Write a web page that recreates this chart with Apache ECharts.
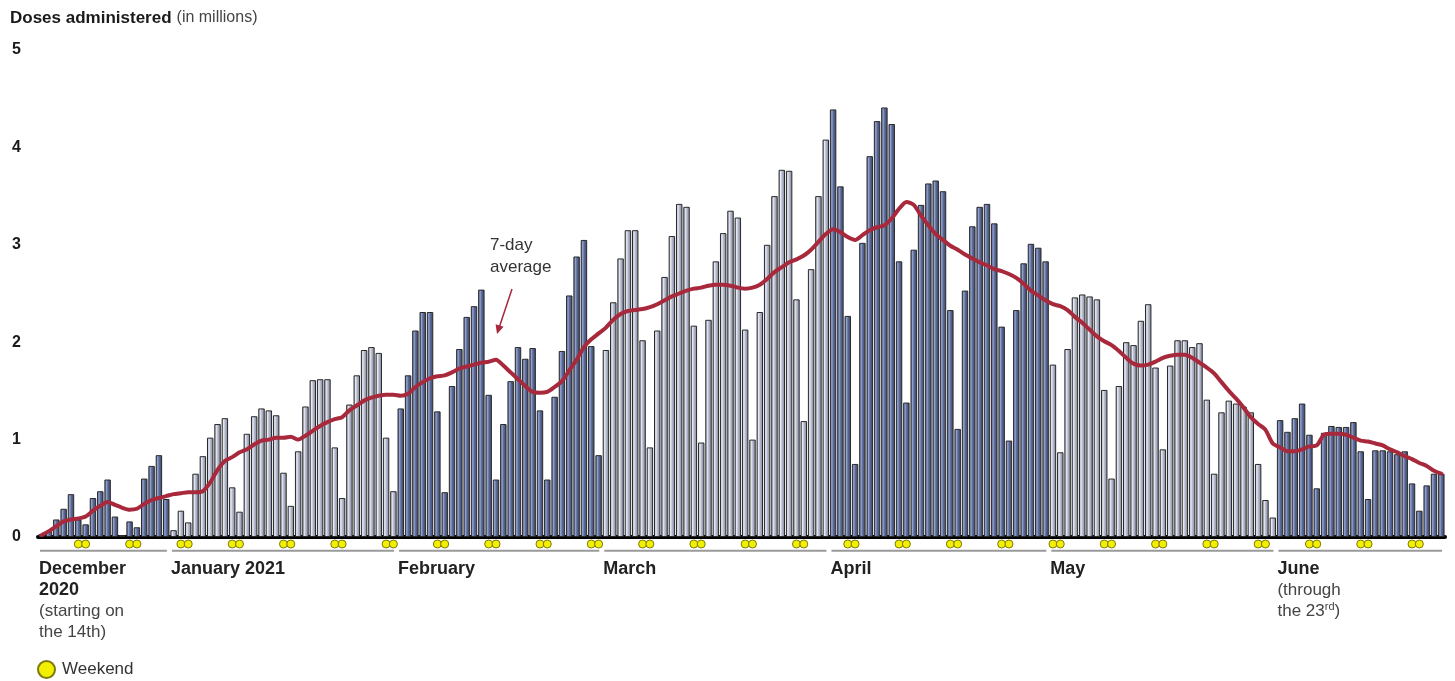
<!DOCTYPE html>
<html>
<head>
<meta charset="utf-8">
<script src="https://cdn.jsdelivr.net/npm/echarts/dist/echarts.min.js"></script>
<style>
  html, body { margin: 0; padding: 0; background: #fff; }
  #container { width: 1455px; height: 681px; }
</style>
</head>
<body>
<div id="container"></div>
<script>
var dom = document.getElementById('container');
var myChart = echarts.init(dom);

// months shown (Dec 14, 2020 through Jun 23, 2021)
var monthDays = [18, 31, 28, 31, 30, 31, 23];
var monthLabels = [
    '{b|December}\n{b|2020}\n{n|(starting on}\n{n|the 14th)}',
    '{b|January 2021}',
    '{b|February}',
    '{b|March}',
    '{b|April}',
    '{b|May}',
    '{b|June}\n{n|(through}\n{n|the 23}{s|rd}{n|)}'
];
var yTicks = [0, 1, 2, 3, 4, 5];

// daily doses, millions
var decDoses = [0.03, 0.06, 0.18, 0.29, 0.44, 0.18, 0.13, 0.40, 0.47, 0.59, 0.21, 0.02, 0.16, 0.10, 0.60, 0.73, 0.84, 0.39];
var janDoses = [0.07, 0.27, 0.15, 0.65, 0.83, 1.02, 1.16, 1.22, 0.51, 0.26, 1.06, 1.24, 1.32, 1.30, 1.25, 0.66, 0.32,
    0.88, 1.34, 1.61, 1.62, 1.62, 0.92, 0.40, 1.36, 1.66, 1.92, 1.95, 1.89, 1.02, 0.47];
var febDoses = [1.32, 1.66, 2.12, 2.31, 2.31, 1.29, 0.46, 1.55, 1.93, 2.26, 2.37, 2.54, 1.46, 0.59,
    1.16, 1.60, 1.95, 1.83, 1.94, 1.30, 0.59, 1.44, 1.91, 2.48, 2.88, 3.05, 1.96, 0.84];
var marDoses = [1.92, 2.41, 2.86, 3.15, 3.15, 2.02, 0.92, 2.12, 2.67, 3.09, 3.42, 3.39, 2.17, 0.97, 2.23, 2.83,
    3.12, 3.35, 3.28, 2.13, 1.00, 2.31, 3.00, 3.50, 3.77, 3.76, 2.44, 1.19, 2.75, 3.50, 4.08];
var aprDoses = [4.39, 3.60, 2.27, 0.75, 3.02, 3.91, 4.27, 4.41, 4.24, 2.83, 1.38, 2.95, 3.41, 3.63, 3.66,
    3.55, 2.33, 1.11, 2.53, 3.19, 3.39, 3.42, 3.22, 2.16, 0.99, 2.33, 2.81, 3.01, 2.97, 2.83];
var mayDoses = [1.77, 0.87, 1.93, 2.46, 2.49, 2.47, 2.44, 1.51, 0.60, 1.55, 2.00, 1.97, 2.22, 2.39, 1.74, 0.90,
    1.76, 2.02, 2.02, 1.95, 1.99, 1.41, 0.65, 1.28, 1.40, 1.37, 1.34, 1.28, 0.75, 0.38, 0.20];
var junDoses = [1.20, 1.08, 1.22, 1.37, 1.05, 0.50, 1.07, 1.14, 1.13, 1.13, 1.18, 0.88, 0.39, 0.89, 0.89,
    0.88, 0.85, 0.88, 0.55, 0.27, 0.53, 0.65, 0.65];

// 7-day average line, millions
var decAvg = [0.02, 0.06, 0.11, 0.16, 0.18, 0.19, 0.21, 0.27, 0.32, 0.36, 0.33, 0.30, 0.28, 0.29, 0.34, 0.38, 0.40, 0.42];
var janAvg = [0.44, 0.45, 0.46, 0.46, 0.47, 0.56, 0.69, 0.78, 0.82, 0.87, 0.90, 0.95, 0.99, 1.00, 1.02, 1.02, 1.03,
    1.00, 1.04, 1.09, 1.14, 1.18, 1.21, 1.23, 1.30, 1.35, 1.40, 1.43, 1.45, 1.46, 1.46];
var febAvg = [1.45, 1.47, 1.54, 1.59, 1.63, 1.65, 1.66, 1.69, 1.73, 1.75, 1.77, 1.79, 1.80, 1.82,
    1.76, 1.69, 1.62, 1.55, 1.49, 1.48, 1.49, 1.54, 1.60, 1.71, 1.82, 1.95, 2.03, 2.09];
var marAvg = [2.15, 2.23, 2.29, 2.32, 2.33, 2.34, 2.36, 2.39, 2.43, 2.47, 2.50, 2.53, 2.55, 2.56, 2.58, 2.59,
    2.59, 2.58, 2.56, 2.55, 2.56, 2.59, 2.65, 2.72, 2.77, 2.82, 2.85, 2.89, 2.95, 3.03, 3.11];
var aprAvg = [3.16, 3.13, 3.08, 3.05, 3.10, 3.15, 3.18, 3.20, 3.27, 3.37, 3.44, 3.41, 3.30, 3.20, 3.11,
    3.05, 2.99, 2.95, 2.90, 2.86, 2.82, 2.79, 2.75, 2.73, 2.70, 2.66, 2.60, 2.53, 2.48, 2.43];
var mayAvg = [2.39, 2.37, 2.33, 2.26, 2.20, 2.13, 2.06, 2.01, 1.97, 1.91, 1.84, 1.78, 1.76, 1.77, 1.80, 1.84,
    1.86, 1.87, 1.87, 1.84, 1.79, 1.74, 1.68, 1.59, 1.50, 1.42, 1.33, 1.23, 1.16, 1.10, 0.96];
var junAvg = [0.92, 0.88, 0.88, 0.90, 0.93, 0.94, 1.05, 1.06, 1.06, 1.05, 1.02, 0.99, 0.98, 0.96, 0.94,
    0.90, 0.87, 0.83, 0.80, 0.76, 0.73, 0.68, 0.65];

var doses = [].concat(decDoses, janDoses, febDoses, marDoses, aprDoses, mayDoses, junDoses);
var avg7 = [].concat(decAvg, janAvg, febAvg, marAvg, aprAvg, mayAvg, junAvg);

// day categories, month of each day, weekends
var days = [];
var monthOf = [];
var weekend = [];
var monthRanges = [];
var d0 = Date.UTC(2020, 11, 14);
var k = 0;
for (var m = 0; m < monthDays.length; m++) {
    monthRanges.push([k, k + monthDays[m] - 1, m]);
    for (var j = 0; j < monthDays[m]; j++) {
        var dt = new Date(d0 + k * 86400000);
        days.push(dt.toISOString().slice(0, 10));
        monthOf.push(m);
        var wd = dt.getUTCDay();
        if (wd === 0 || wd === 6) weekend.push([k, 0.6]);
        k++;
    }
}

var darkBar = new echarts.graphic.LinearGradient(0, 0, 1, 0, [
    {offset: 0, color: '#42507a'}, {offset: 0.3, color: '#95a3d0'},
    {offset: 0.55, color: '#5a6996'}, {offset: 1, color: '#3b4666'}
]);
var lightBar = new echarts.graphic.LinearGradient(0, 0, 1, 0, [
    {offset: 0, color: '#868ca3'}, {offset: 0.3, color: '#e8eaf3'},
    {offset: 0.55, color: '#b3b8cb'}, {offset: 1, color: '#7c8298'}
]);

var font = '"Liberation Sans", Arial, sans-serif';
var labelRich = {
    b: {fontSize: 18, fontWeight: 'bold', fill: '#222', color: '#222', lineHeight: 21, fontFamily: font},
    n: {fontSize: 17, fill: '#444', color: '#444', lineHeight: 21, fontFamily: font},
    s: {fontSize: 11, fill: '#444', color: '#444', padding: [0, 0, 9, 0], fontFamily: font}
};

option = {
    animation: false,
    textStyle: {fontFamily: font},
    title: {
        text: '{b|Doses administered} {n|(in millions)}',
        left: 5,
        top: 4,
        textStyle: {
            fontWeight: 'normal',
            rich: {
                b: {fontSize: 17, fontWeight: 'bold', color: '#1a1a1a', fontFamily: font},
                n: {fontSize: 16, fontWeight: 'normal', color: '#444', fontFamily: font}
            }
        }
    },
    legend: {
        data: ['Weekend'],
        left: 32,
        top: 655,
        icon: 'circle',
        itemWidth: 17,
        itemHeight: 17,
        itemGap: 6,
        textStyle: {fontSize: 17, color: '#333', fontFamily: font, padding: [0, 0, 0, 2]}
    },
    grid: [
        {left: 38, right: 10, top: 50, bottom: 144},
        {left: 38, right: 10, top: 538, bottom: 128}
    ],
    xAxis: [
        {
            type: 'category',
            data: days,
            gridIndex: 0,
            boundaryGap: true,
            axisLine: {lineStyle: {color: '#000', width: 4}},
            axisTick: {show: false},
            axisLabel: {show: false}
        },
        {
            type: 'category',
            data: days,
            gridIndex: 1,
            boundaryGap: true,
            show: false
        }
    ],
    yAxis: [
        {
            type: 'value',
            gridIndex: 0,
            min: 0,
            max: 5,
            interval: 1,
            splitLine: {show: false},
            axisLine: {show: false},
            axisTick: {show: false},
            axisLabel: {
                margin: 17,
                fontSize: 16,
                fontWeight: 'bold',
                color: '#1a1a1a',
                formatter: function (v) { return yTicks.indexOf(v) >= 0 ? String(v) : ''; }
            }
        },
        {
            type: 'value',
            gridIndex: 1,
            min: 0,
            max: 1,
            show: false
        }
    ],
    series: [
        {
            name: 'Doses',
            type: 'bar',
            data: doses,
            barCategoryGap: '12%',
            itemStyle: {
                borderColor: '#2a2a2a',
                borderWidth: 1,
                color: function (p) { return monthOf[p.dataIndex] % 2 === 0 ? darkBar : lightBar; }
            },
            z: 2
        },
        {
            name: '7-day average',
            type: 'line',
            data: avg7,
            smooth: 0.25,
            symbol: 'none',
            lineStyle: {color: '#a8283c', width: 4, cap: 'round', join: 'round'},
            z: 3
        },
        {
            name: 'Weekend',
            type: 'scatter',
            xAxisIndex: 1,
            yAxisIndex: 1,
            data: weekend,
            symbolSize: 8,
            itemStyle: {color: '#f2ef00', borderColor: '#7d7a10', borderWidth: 1, opacity: 1}
        },
        {
            name: 'months',
            type: 'custom',
            xAxisIndex: 1,
            yAxisIndex: 1,
            data: monthRanges,
            encode: {x: [0, 1]},
            clip: false,
            renderItem: function (params, api) {
                var s = api.coord([api.value(0), 0.15]);
                var e = api.coord([api.value(1), 0.15]);
                var bw = api.size([1, 0])[0];
                var x0 = s[0] - bw / 2 + 2;
                return {
                    type: 'group',
                    children: [
                        {
                            type: 'line',
                            shape: {x1: x0, y1: s[1], x2: e[0] + bw / 2 - 3, y2: e[1]},
                            style: {stroke: '#9a9a9a', lineWidth: 2}
                        },
                        {
                            type: 'text',
                            x: x0 - 1,
                            y: s[1] + 8,
                            style: {
                                text: monthLabels[api.value(2)],
                                rich: labelRich,
                                align: 'left',
                                verticalAlign: 'top'
                            }
                        }
                    ]
                };
            },
            silent: true
        }
    ],
    graphic: [
        {
            type: 'text',
            left: 490,
            top: 234,
            style: {
                text: '7-day\naverage',
                font: '17px ' + font,
                fill: '#333',
                align: 'center',
                lineHeight: 22
            }
        },
        {
            type: 'line',
            shape: {x1: 512, y1: 289, x2: 499, y2: 328},
            style: {stroke: '#a8283c', lineWidth: 1.5}
        },
        {
            type: 'polygon',
            shape: {points: [[497, 334], [503.6, 326.8], [495.6, 324.2]]},
            style: {fill: '#a8283c'}
        }
    ]
};

if (option && typeof option === "object") {
    myChart.setOption(option, true);
}
</script>
</body>
</html>
